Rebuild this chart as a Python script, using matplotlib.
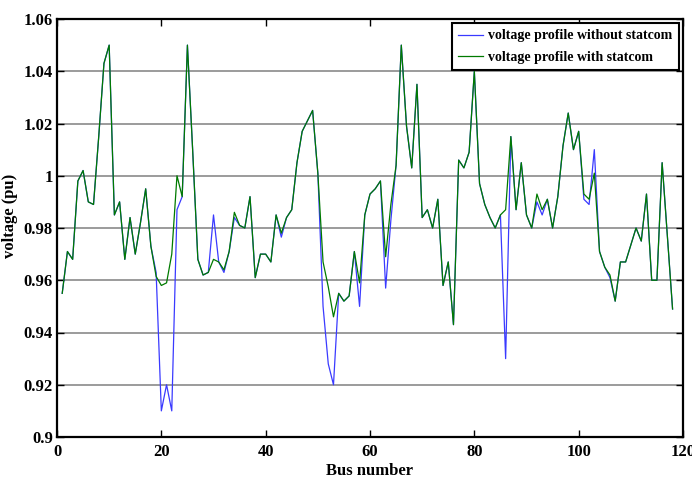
import matplotlib
matplotlib.use("Agg")
import matplotlib.pyplot as plt
import numpy as np

# bus voltages, buses 1..118
bus = np.arange(1, 119)

v_with = [
    0.955, 0.971, 0.968, 0.998, 1.002, 0.990, 0.989, 1.015, 1.043, 1.050,
    0.985, 0.990, 0.968, 0.984, 0.970, 0.982, 0.995, 0.973, 0.9615, 0.958,
    0.959, 0.970, 1.000, 0.992, 1.050, 1.010, 0.968, 0.962, 0.963, 0.968,
    0.967, 0.964, 0.971, 0.986, 0.981, 0.980, 0.992, 0.961, 0.970, 0.970,
    0.967, 0.985, 0.978, 0.984, 0.987, 1.005, 1.017, 1.021, 1.025, 1.001,
    0.967, 0.9575, 0.946, 0.955, 0.952, 0.954, 0.971, 0.959, 0.985, 0.993,
    0.995, 0.998, 0.969, 0.989, 1.004, 1.050, 1.019, 1.003, 1.035, 0.984,
    0.987, 0.980, 0.991, 0.958, 0.967, 0.943, 1.006, 1.003, 1.009, 1.040,
    0.997, 0.989, 0.984, 0.980, 0.985, 0.987, 1.015, 0.987, 1.005, 0.985,
    0.980, 0.993, 0.987, 0.991, 0.980, 0.992, 1.0115, 1.024, 1.010, 1.017,
    0.993, 0.991, 1.001, 0.971, 0.965, 0.962, 0.952, 0.967, 0.967, 0.9735,
    0.980, 0.975, 0.993, 0.960, 0.960, 1.005, 0.977, 0.949,
]

v_without = [
    0.955, 0.971, 0.968, 0.998, 1.002, 0.990, 0.989, 1.015, 1.043, 1.050,
    0.985, 0.990, 0.968, 0.984, 0.970, 0.982, 0.995, 0.973, 0.963, 0.910,
    0.920, 0.910, 0.987, 0.992, 1.050, 1.010, 0.968, 0.962, 0.963, 0.985,
    0.967, 0.963, 0.971, 0.984, 0.981, 0.980, 0.992, 0.961, 0.970, 0.970,
    0.967, 0.985, 0.9765, 0.984, 0.987, 1.005, 1.017, 1.021, 1.025, 1.001,
    0.950, 0.928, 0.920, 0.955, 0.952, 0.954, 0.971, 0.950, 0.985, 0.993,
    0.995, 0.998, 0.957, 0.983, 1.004, 1.050, 1.019, 1.003, 1.035, 0.984,
    0.987, 0.980, 0.991, 0.958, 0.967, 0.943, 1.006, 1.003, 1.009, 1.040,
    0.997, 0.989, 0.984, 0.980, 0.985, 0.930, 1.015, 0.987, 1.005, 0.985,
    0.980, 0.990, 0.985, 0.991, 0.980, 0.992, 1.0115, 1.024, 1.010, 1.017,
    0.991, 0.989, 1.010, 0.971, 0.965, 0.961, 0.952, 0.967, 0.967, 0.9735,
    0.980, 0.975, 0.993, 0.960, 0.960, 1.005, 0.977, 0.949,
]

x_ticks = [0, 20, 40, 60, 80, 100, 120]
y_ticks = [0.9, 0.92, 0.94, 0.96, 0.98, 1.0, 1.02, 1.04, 1.06]
y_labels = ["0.9", "0.92", "0.94", "0.96", "0.98", "1", "1.02", "1.04", "1.06"]

plt.rcParams["font.family"] = ["Liberation Serif", "DejaVu Serif"]
plt.rcParams["font.weight"] = "bold"

fig = plt.figure(figsize=(6.92, 4.78), dpi=100)
ax = fig.add_axes([57 / 692, 41 / 478, 626 / 692, 418 / 478])

ax.plot(bus, v_without, color="#3a3aff", lw=0.9, label="voltage profile without statcom")
ax.plot(bus, v_with, color="#007a00", lw=0.9, label="voltage profile with statcom")

ax.set_xlim(0, 120)
ax.set_ylim(0.9, 1.06)
ax.set_xticks(x_ticks)
ax.set_yticks(y_ticks)
ax.set_yticklabels(y_labels)
ax.yaxis.grid(True, color="#8a8a8a", lw=1.2)
ax.set_axisbelow(True)
ax.tick_params(direction="in", top=True, right=True, length=5, width=1, labelsize=12)
ax.tick_params(axis="x", pad=5)
ax.tick_params(axis="y", pad=3)
for lbl in ax.get_xticklabels() + ax.get_yticklabels():
    lbl.set_fontweight("bold")
for s in ax.spines.values():
    s.set_linewidth(1.6)

ax.set_xlabel("Bus number", fontsize=12, fontweight="bold", labelpad=2)
ax.set_ylabel("voltage (pu)", fontsize=12, fontweight="bold")
ax.yaxis.set_label_coords(-0.062, 0.53)

leg = ax.legend(loc="upper right", fontsize=10, fancybox=False, framealpha=1,
                edgecolor="black", borderaxespad=0.3, handlelength=1.8,
                handletextpad=0.35, borderpad=0.45, labelspacing=0.6)
leg.get_frame().set_linewidth(1.5)
for t in leg.get_texts():
    t.set_fontweight("bold")

fig.savefig("out.png", dpi=100)
